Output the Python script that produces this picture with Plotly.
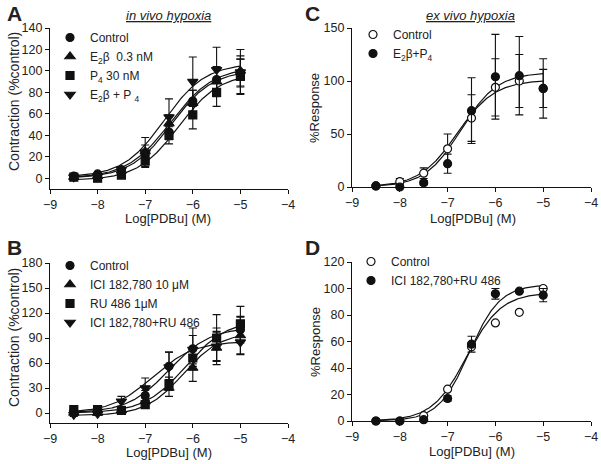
import numpy as np
import plotly.graph_objects as go

W, H = 601, 464

# ---------------- data ----------------
log_pdbu = [-8.5, -8, -7.5, -7, -6.5, -6, -5.5, -5]
x_ticks = [-9, -8, -7, -6, -5, -4]

# Panel A: in vivo hypoxia, Contraction (%control)
a_control = [2, 4, 8, 22, 43, 72, 92, 98]
a_control_err = [1, 1, 2, 5, 7, 10, 10, 13]
a_e2 = [1, 2, 7, 25, 51, 70, 90, 100]
a_e2_err = [1, 1, 2, 6, 8, 12, 14, 14]
a_p4 = [1, 0, 3, 16, 40, 59, 80, 95]
a_p4_err = [1, 1, 2, 5, 8, 13, 13, 16]
a_e2p4 = [1, 2, 8, 24, 57, 90, 101, 99]
a_e2p4_err = [1, 1, 2, 14, 17, 23, 21, 21]

# Panel B: in vivo hypoxia with antagonists
b_control = [2, 2, 3, 21, 56, 77, 90, 100]
b_control_err = [2, 2, 2, 6, 17, 25, 12, 16]
b_ici = [0, 0, 3, 14, 30, 54, 78, 93]
b_ici_err = [2, 2, 2, 4, 10, 16, 20, 22]
b_ru = [4, 4, 3, 10, 35, 66, 90, 107]
b_ru_err = [2, 2, 2, 4, 8, 10, 28, 21]
b_iciru = [-2, -1, 14, 30, 55, 76, 80, 85]
b_iciru_err = [2, 2, 6, 12, 18, 17, 17, 15]

# Panel C: ex vivo hypoxia, %Response
c_control = [1, 5, 13, 36, 65, 94, 100, 93]
c_control_err = [1, 3, 5, 14, 22, 27, 25, 18]
c_e2p4 = [1, 0, 4, 22, 72, 104, 105, 93]
c_e2p4_err = [1, 1, 2, 9, 31, 40, 37, 28]

# Panel D: %Response with antagonists
d_control = [0, 0, 4, 24, 56, 74, 82, 100]
d_control_err = [0, 0, 0, 0, 0, 0, 0, 0]
d_iciru = [0, 0, 1, 17, 58, 96, 98, 95]
d_iciru_err = [0.5, 0.5, 0.5, 2, 6, 4, 1, 5]

# fitted sigmoid parameters: [bottom, top, logEC50, hill]
fit_a_control = [0, 101, -6.45, 1.0]
fit_a_e2 = [0, 104, -6.47, 0.95]
fit_a_p4 = [-2, 98, -6.3, 1.0]
fit_a_e2p4 = [1, 107, -6.6, 1.0]
fit_b_control = [0, 103, -6.5, 1.0]
fit_b_ici = [-3, 97, -6.2, 1.1]
fit_b_ru = [0, 112, -6.15, 1.0]
fit_b_iciru = [0, 86, -6.85, 1.0]
fit_c_control = [0, 101, -6.8, 1.1]
fit_c_e2p4 = [0, 108, -6.72, 1.15]
fit_d_control = [0, 97, -6.6, 1.2]
fit_d_iciru = [0, 103, -6.55, 1.35]

# ---------------- helpers ----------------
INK = "#111111"
FONT = "Liberation Sans, Arial, sans-serif"
xfit = np.linspace(-8.5, -5, 200)


def hill(params, x):
    b, t, ec, h = params
    return b + (t - b) / (1 + 10 ** ((ec - x) * h))


def pxx(x):
    return x / W


def pxy(y):
    return 1 - y / H


fig = go.Figure()


def add_panel(xa, ya, leg, series):
    for name, vals, errs, sym, fill, fit in series:
        fig.add_trace(go.Scatter(
            x=xfit, y=hill(fit, xfit), mode="lines",
            line=dict(color=INK, width=1.2), showlegend=False,
            xaxis=xa, yaxis=ya, hoverinfo="skip"))
    for name, vals, errs, sym, fill, fit in series:
        size = 9 if "triangle" in sym else 8
        fig.add_trace(go.Scatter(
            x=log_pdbu, y=vals, mode="markers", name=name,
            marker=dict(symbol=sym, size=size, color=fill,
                        line=dict(color=INK, width=1.2)),
            error_y=dict(type="data", array=errs, visible=True,
                         color=INK, thickness=1.1, width=4),
            cliponaxis=False, xaxis=xa, yaxis=ya, legend=leg))


add_panel("x", "y", "legend", [
    ("Control", a_control, a_control_err, "circle", INK, fit_a_control),
    ("E<sub>2</sub>β  0.3 nM", a_e2, a_e2_err, "triangle-up", INK, fit_a_e2),
    ("P<sub>4</sub> 30 nM", a_p4, a_p4_err, "square", INK, fit_a_p4),
    ("E<sub>2</sub>β + P <sub>4</sub>", a_e2p4, a_e2p4_err, "triangle-down", INK, fit_a_e2p4),
])
add_panel("x2", "y2", "legend2", [
    ("Control", c_control, c_control_err, "circle", "white", fit_c_control),
    ("E<sub>2</sub>β+P<sub>4</sub>", c_e2p4, c_e2p4_err, "circle", INK, fit_c_e2p4),
])
add_panel("x3", "y3", "legend3", [
    ("Control", b_control, b_control_err, "circle", INK, fit_b_control),
    ("ICI 182,780 10 μM", b_ici, b_ici_err, "triangle-up", INK, fit_b_ici),
    ("RU 486 1μM", b_ru, b_ru_err, "square", INK, fit_b_ru),
    ("ICI 182,780+RU 486", b_iciru, b_iciru_err, "triangle-down", INK, fit_b_iciru),
])
add_panel("x4", "y4", "legend4", [
    ("Control", d_control, d_control_err, "circle", "white", fit_d_control),
    ("ICI 182,780+RU 486", d_iciru, d_iciru_err, "circle", INK, fit_d_iciru),
])


def xaxis(dom, anchor):
    return dict(domain=dom, anchor=anchor, range=[-9, -4], tickvals=x_ticks,
                showline=True, linecolor=INK, linewidth=1.3, ticks="outside",
                ticklen=4, tickwidth=1.3, tickcolor=INK, showgrid=False,
                zeroline=False, automargin=False,
                tickfont=dict(size=12.5, color="#222", family=FONT))


def yaxis(dom, anchor, rng, dtick):
    return dict(domain=dom, anchor=anchor, range=rng, tick0=0, dtick=dtick,
                showline=True, linecolor=INK, linewidth=1.3, ticks="outside",
                ticklen=4, tickwidth=1.3, tickcolor=INK, showgrid=False,
                zeroline=False, automargin=False,
                tickfont=dict(size=12.5, color="#222", family=FONT))


# pixel layout -> paper domains
dxA = [pxx(50), pxx(288)]
dxC = [pxx(352), pxx(591)]
dyA = [pxy(189), pxy(28)]
dyC = [pxy(187), pxy(28)]
dyB = [pxy(423), pxy(263)]
dyD = [pxy(421), pxy(262)]


def legend_at(xp, yp):
    return dict(x=pxx(xp), y=pxy(yp), xanchor="left", yanchor="top",
                bgcolor="rgba(0,0,0,0)", borderwidth=0,
                font=dict(size=12, color="#222", family=FONT), tracegroupgap=0)


annotations = []


def text(xp, yp, t, size, angle=0):
    annotations.append(dict(
        x=pxx(xp), y=pxy(yp), xref="paper", yref="paper", text=t,
        showarrow=False, textangle=angle, xanchor="center", yanchor="middle",
        font=dict(size=size, color="#222", family=FONT)))


# panel letters
for (lx, ly, L) in [(14, 14, "A"), (14, 247, "B"), (312, 14, "C"), (312, 248, "D")]:
    text(lx, ly, "<b>" + L + "</b>", 21)
# panel titles
text(169, 15, "<i><u>in vivo hypoxia</u></i>", 13)
text(470, 15, "<i><u>ex vivo hypoxia</u></i>", 13)
# x titles
for (tx, ty) in [(168, 218), (169, 452), (473, 218), (472, 451)]:
    text(tx, ty, "Log[PDBu] (M)", 13)
# y titles
text(14, 102, "Contraction (%control)", 14, -90)
text(14, 338, "Contraction (%control)", 14, -90)
text(315, 108, "%Response", 13, -90)
text(315, 342, "%Response", 13, -90)

fig.update_layout(
    width=W, height=H, margin=dict(l=0, r=0, t=0, b=0, pad=0, autoexpand=False),
    paper_bgcolor="white", plot_bgcolor="white",
    font=dict(family=FONT, color="#222"),
    xaxis=xaxis(dxA, "y"), yaxis=yaxis(dyA, "x", [-10, 140], 20),
    xaxis2=xaxis(dxC, "y2"), yaxis2=yaxis(dyC, "x2", [0, 150], 50),
    xaxis3=xaxis(dxA, "y3"), yaxis3=yaxis(dyB, "x3", [-12, 180], 30),
    xaxis4=xaxis(dxC, "y4"), yaxis4=yaxis(dyD, "x4", [0, 120], 20),
    legend=legend_at(50, 23),
    legend2=legend_at(353, 20),
    legend3=legend_at(50, 251),
    legend4=legend_at(351, 247),
    annotations=annotations,
    showlegend=True,
)

fig.write_html("out.html", config={"displayModeBar": False},
               post_script="document.body.style.margin='0';")
